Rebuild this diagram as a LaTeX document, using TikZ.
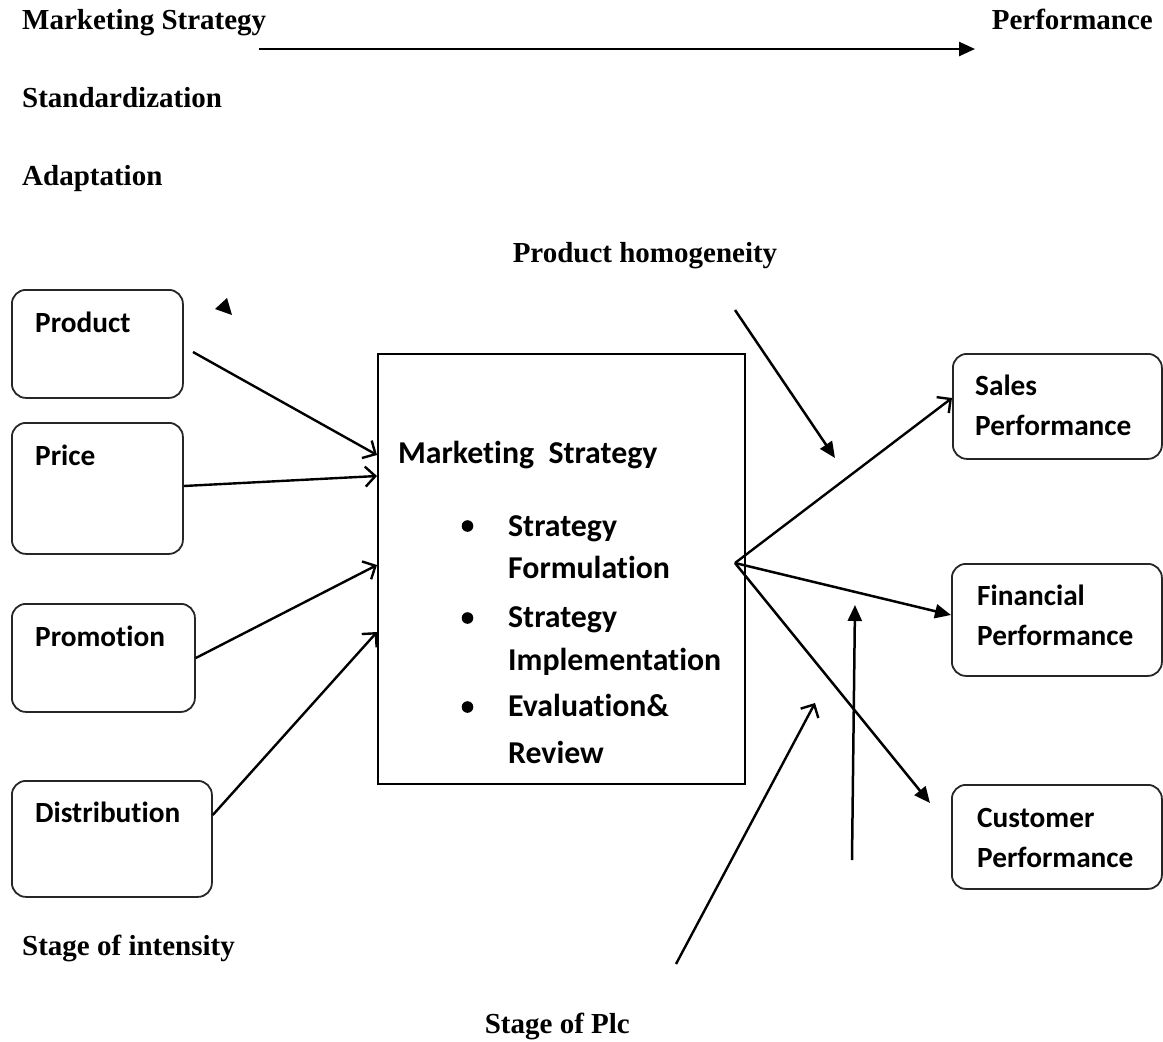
\documentclass[tikz,border=0pt]{standalone}
\usepackage{fontspec}
\setmainfont{Liberation Serif}
\newfontfamily\calibri[Ligatures=CommonOff]{Carlito}
\usetikzlibrary{arrows.meta}

\begin{document}
\begin{tikzpicture}[x=1pt,y=-1pt,
  head/.style={font=\bfseries\fontsize{29}{34}\selectfont, anchor=base west, inner sep=0pt},
  boxtext/.style={font=\calibri\bfseries\fontsize{29.3}{34}\selectfont, anchor=base west, inner sep=0pt},
  maintext/.style={font=\calibri\bfseries\fontsize{31.8}{36}\selectfont, anchor=base west, inner sep=0pt},
  card/.style={rectangle, draw=black!85, line width=1.8pt, rounded corners=14pt, inner sep=0pt, anchor=north west},
  panel/.style={rectangle, draw=black, line width=2.2pt, inner sep=0pt, anchor=north west},
  flow/.style={line width=2.4pt, -{Straight Barb[length=10pt,width=20pt,line width=2.4pt]}},
  push/.style={line width=2.5pt, -{Triangle[length=16pt,width=14pt]}},
]
\useasboundingbox (0,0) rectangle (1163,1042);

% headings
\node[head] (hMS) at (22,29) {Marketing Strategy};
\node[head, anchor=base east] (hPerf) at (1153,29) {Performance};
\node[head] (hStd) at (22,107) {Standardization};
\node[head] (hAdp) at (22,185) {Adaptation};
\node[head, anchor=base] (hHom) at (645,262) {Product homogeneity};
\node[head] (hInt) at (22,955) {Stage of intensity};
\node[head, anchor=base east] (hPlc) at (630,1033) {Stage of Plc};

\coordinate (topL) at (259,49);
\coordinate (topR) at (975,49);
\draw[push] (topL) -- (topR);

% stray arrow head
\fill (215,309) -- (227,298) -- (232,315) -- cycle;

% marketing mix boxes
\node[card, minimum width=171pt, minimum height=108pt] (prod) at (11,289) {};
\node[card, minimum width=171pt, minimum height=131pt] (price) at (11,422) {};
\node[card, minimum width=183pt, minimum height=108pt] (promo) at (11,603) {};
\node[card, minimum width=200pt, minimum height=116pt] (dist) at (11,780) {};
\node[boxtext] (tProd) at (35,332) {Product};
\node[boxtext] (tPrice) at (35,465) {Price};
\node[boxtext] (tPromo) at (35,646) {Promotion};
\node[boxtext] (tDist) at (35,822) {Distribution};

% central strategy box
\node[panel, minimum width=367pt, minimum height=430pt] (main) at (377,353) {};
\node[maintext] (mTitle) at (398,463) {Marketing\ \ Strategy};
\node[maintext] (m1a) at (508,536) {Strategy};
\node[maintext] (m1b) at (508,578) {Formulation};
\node[maintext] (m2a) at (508,627) {Strategy};
\node[maintext] (m2b) at (508,670) {Implementation};
\node[maintext] (m3a) at (508,716) {Evaluation\&};
\node[maintext] (m3b) at (508,763) {Review};
\fill (467.5,526) circle (5.8pt);
\fill (467.5,618) circle (5.8pt);
\fill (467.5,707) circle (5.8pt);

% performance boxes
\node[card, minimum width=209pt, minimum height=105pt] (sales) at (952,353) {};
\node[card, minimum width=210pt, minimum height=112pt] (fin) at (951,563) {};
\node[card, minimum width=210pt, minimum height=104pt] (cust) at (951,784) {};
\node[boxtext] (tS1) at (975,395) {Sales};
\node[boxtext] (tS2) at (975,435) {Performance};
\node[boxtext] (tF1) at (977,605) {Financial};
\node[boxtext] (tF2) at (977,645) {Performance};
\node[boxtext] (tC1) at (977,827) {Customer};
\node[boxtext] (tC2) at (977,867) {Performance};

% inputs into the strategy box
\coordinate (prodOut) at (193,352);
\draw[flow] (prodOut) -- (main.west |- 0,455);
\draw[flow] (price.east |- 0,486) -- (main.west |- 0,476);
\draw[flow] (promo.east |- 0,658) -- (main.west |- 0,565);
\draw[flow] (dist.east |- 0,815) -- (main.west |- 0,632);

% outputs to performance
\coordinate (hub) at (735,563);
\draw[flow] (hub) -- (sales.west |- 0,398);
\draw[push] (hub) -- (fin.west |- 0,615);
\draw[push] (hub) -- (930,803) coordinate (custIn);

% moderating influences
\coordinate (homA) at (735,310);
\coordinate (homB) at (835,458);
\draw[push] (homA) -- (homB);
\coordinate (plcA) at (676,964);
\coordinate (plcB) at (815,703);
\draw[flow] (plcA) -- (plcB);
\coordinate (vA) at (852,860);
\coordinate (vB) at (855,605);
\draw[push] (vA) -- (vB);
\end{tikzpicture}
\end{document}
